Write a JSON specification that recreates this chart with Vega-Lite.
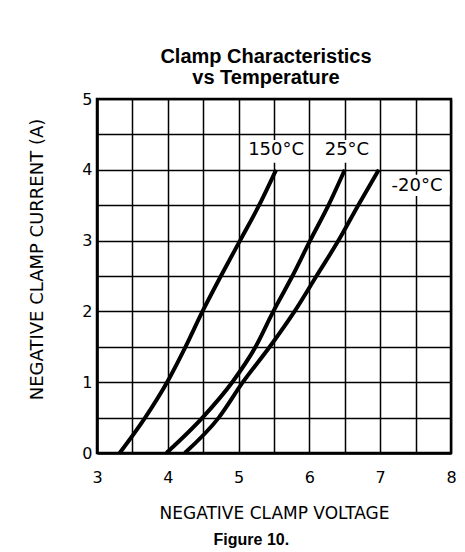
{
  "$schema": "https://vega.github.io/schema/vega-lite/v6.json",
  "width": 354,
  "height": 354,
  "autosize": {"type": "none"},
  "padding": {"left": 97, "top": 99, "right": 14, "bottom": 99},
  "background": "white",
  "config": {"view": {"stroke": "#000", "strokeWidth": 2.5}},
  "title": {
    "text": ["Clamp Characteristics", "vs Temperature"],
    "font": "Liberation Sans",
    "fontWeight": "bold",
    "fontSize": 20,
    "lineHeight": 21,
    "anchor": "middle",
    "dx": -8,
    "offset": -17,
    "baseline": "bottom",
    "color": "#000"
  },
  "datasets": {
    "curves": [
      {"temp": "150°C", "voltage": 3.32, "current": 0},
      {"temp": "150°C", "voltage": 3.68, "current": 0.5},
      {"temp": "150°C", "voltage": 3.99, "current": 1.0},
      {"temp": "150°C", "voltage": 4.25, "current": 1.5},
      {"temp": "150°C", "voltage": 4.49, "current": 2.0},
      {"temp": "150°C", "voltage": 4.75, "current": 2.5},
      {"temp": "150°C", "voltage": 5.02, "current": 3.0},
      {"temp": "150°C", "voltage": 5.29, "current": 3.5},
      {"temp": "150°C", "voltage": 5.53, "current": 4.0},
      {"temp": "25°C", "voltage": 3.98, "current": 0},
      {"temp": "25°C", "voltage": 4.49, "current": 0.5},
      {"temp": "25°C", "voltage": 4.91, "current": 1.0},
      {"temp": "25°C", "voltage": 5.24, "current": 1.5},
      {"temp": "25°C", "voltage": 5.49, "current": 2.0},
      {"temp": "25°C", "voltage": 5.76, "current": 2.5},
      {"temp": "25°C", "voltage": 6.01, "current": 3.0},
      {"temp": "25°C", "voltage": 6.27, "current": 3.5},
      {"temp": "25°C", "voltage": 6.50, "current": 4.0},
      {"temp": "-20°C", "voltage": 4.24, "current": 0},
      {"temp": "-20°C", "voltage": 4.72, "current": 0.5},
      {"temp": "-20°C", "voltage": 5.06, "current": 1.0},
      {"temp": "-20°C", "voltage": 5.44, "current": 1.5},
      {"temp": "-20°C", "voltage": 5.79, "current": 2.0},
      {"temp": "-20°C", "voltage": 6.10, "current": 2.5},
      {"temp": "-20°C", "voltage": 6.41, "current": 3.0},
      {"temp": "-20°C", "voltage": 6.69, "current": 3.5},
      {"temp": "-20°C", "voltage": 6.98, "current": 4.0}
    ],
    "labels": [
      {"label": "150°C", "lx": 5.53, "ly": 4.28, "bx1": 5.07, "bx2": 5.97, "by1": 4.10, "by2": 4.42},
      {"label": "25°C", "lx": 6.53, "ly": 4.28, "bx1": 6.05, "bx2": 6.95, "by1": 4.10, "by2": 4.42},
      {"label": "-20°C", "lx": 7.52, "ly": 3.77, "bx1": 7.06, "bx2": 7.98, "by1": 3.63, "by2": 3.93}
    ]
  },
  "layer": [
    {
      "data": {"name": "curves"},
      "mark": {"type": "line", "color": "#000", "strokeWidth": 4, "interpolate": "monotone"},
      "encoding": {
        "x": {
          "field": "voltage",
          "type": "quantitative",
          "scale": {"domain": [3, 8], "nice": false, "zero": false},
          "axis": {
            "values": [3, 3.5, 4, 4.5, 5, 5.5, 6, 6.5, 7, 7.5, 8],
            "tickCount": 20,
            "format": ".0f",
            "labelOpacity": {"condition": {"test": "datum.value % 1 !== 0", "value": 0}, "value": 1},
            "title": "NEGATIVE CLAMP VOLTAGE",
            "grid": true,
            "gridColor": "#000",
            "gridWidth": 1.5,
            "gridOpacity": 1,
            "ticks": false,
            "domainColor": "#000",
            "domainWidth": 2.5,
            "labelFont": "DejaVu Sans",
            "labelFontSize": 16,
            "labelColor": "#000",
            "labelPadding": 16,
            "labelFlush": false,
            "labelOverlap": false,
            "titleFont": "DejaVu Sans",
            "titleFontSize": 17,
            "titleFontWeight": "normal",
            "titleColor": "#000",
            "titleX": 177,
            "titleY": 60,
            "titleBaseline": "middle"
          }
        },
        "y": {
          "field": "current",
          "type": "quantitative",
          "scale": {"domain": [0, 5], "nice": false, "zero": false},
          "axis": {
            "values": [0, 0.5, 1, 1.5, 2, 2.5, 3, 3.5, 4, 4.5, 5],
            "tickCount": 20,
            "format": ".0f",
            "labelOpacity": {"condition": {"test": "datum.value % 1 !== 0", "value": 0}, "value": 1},
            "title": "NEGATIVE CLAMP CURRENT (A)",
            "grid": true,
            "gridColor": "#000",
            "gridWidth": 1.5,
            "gridOpacity": 1,
            "ticks": false,
            "domainColor": "#000",
            "domainWidth": 2.5,
            "labelFont": "DejaVu Sans",
            "labelFontSize": 16,
            "labelColor": "#000",
            "labelPadding": 5,
            "labelOverlap": false,
            "labelFlush": false,
            "titleFont": "DejaVu Sans",
            "titleFontSize": 18,
            "titleFontWeight": "normal",
            "titleColor": "#000",
            "titleX": -60,
            "titleY": 160,
            "titleBaseline": "middle"
          }
        },
        "detail": {"field": "temp"},
        "order": {"field": "current"}
      }
    },
    {
      "data": {"name": "labels"},
      "mark": {"type": "rect", "fill": "white", "stroke": null},
      "encoding": {
        "x": {"field": "bx1", "type": "quantitative"},
        "x2": {"field": "bx2"},
        "y": {"field": "by1", "type": "quantitative"},
        "y2": {"field": "by2"}
      }
    },
    {
      "data": {"name": "labels"},
      "mark": {"type": "text", "font": "DejaVu Sans", "fontSize": 18, "color": "#000", "align": "center", "baseline": "middle"},
      "encoding": {
        "x": {"field": "lx", "type": "quantitative"},
        "y": {"field": "ly", "type": "quantitative"},
        "text": {"field": "label"}
      }
    },
    {
      "data": {"values": [{}]},
      "mark": {"type": "text", "font": "Liberation Sans", "fontWeight": "bold", "fontSize": 16, "color": "#000", "align": "center", "baseline": "middle"},
      "encoding": {
        "x": {"datum": 5.18},
        "y": {"datum": -1.23},
        "text": {"value": "Figure 10."}
      }
    }
  ]
}
